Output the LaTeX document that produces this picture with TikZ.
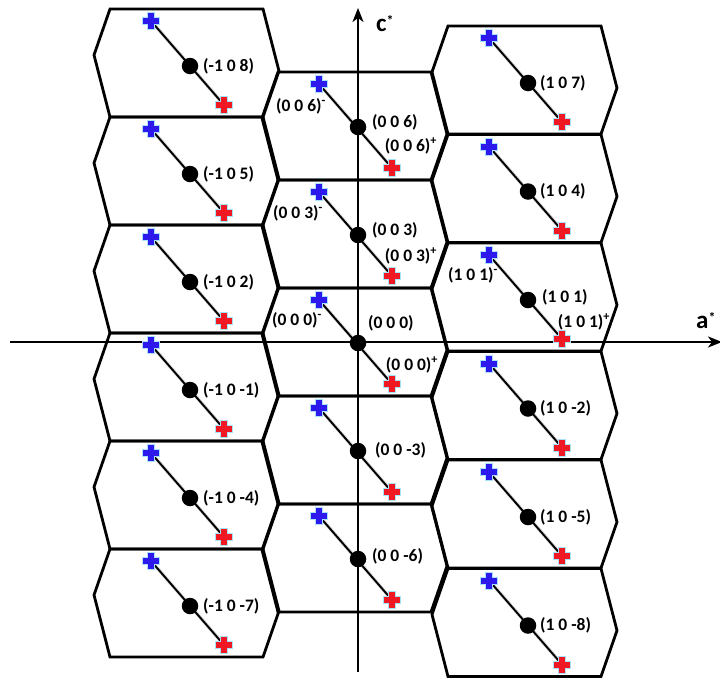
\documentclass[tikz,border=0pt]{standalone}
\usepackage{fontspec}
\setmainfont{Carlito}
\usetikzlibrary{arrows.meta,calc}
\definecolor{crossblue}{RGB}{45,25,235}
\definecolor{crossred}{RGB}{240,25,35}
\tikzset{
  cell/.style={draw=black, line width=2.8pt, line join=miter},
  axisline/.style={line width=2.2pt, -{Stealth[length=14pt,width=11pt,inset=4pt]}},
  bond/.style={line width=1.9pt},
  bondshadow/.style={line width=3.5pt, black!30, opacity=0.5},
  dotnode/.style={circle, fill=black, inner sep=0pt, minimum size=16.5pt},
  lbl/.style={font=\bfseries\fontsize{17.5}{17.5}\selectfont, inner sep=0pt},
  axlbl/.style={font=\bfseries\fontsize{25}{25}\selectfont, inner sep=0pt},
}
\newcommand\hexcell[2]{%
  \draw[cell] (#1,#2) -- ++(153,0) -- ++(16,62) -- ++(-16,46) -- ++(-153,0) -- ++(-16,-62) -- cycle;}
\newcommand\pluscross[2]{%
  \filldraw[fill=#2, draw=cyan!35, line width=0.7pt] (#1) ++(-8.5,-3.4) -- ++(5.1,0) -- ++(0,-5.1) -- ++(6.8,0) -- ++(0,5.1) -- ++(5.1,0) -- ++(0,6.8) -- ++(-5.1,0) -- ++(0,5.1) -- ++(-6.8,0) -- ++(0,-5.1) -- ++(-5.1,0) -- cycle;}
\newcommand\bondcell[4]{% x0, top, dot offset, name
  \coordinate (#4b) at (#1+41,#2+12);
  \coordinate (#4r) at (#1+114,#2+96);
  \draw[bondshadow] ($(#4b)+(1.5,1.5)$) -- ($(#4r)+(1.5,1.5)$);
  \draw[bond] (#4b) -- (#4r);
  \pluscross{#4b}{crossblue}
  \pluscross{#4r}{crossred}
  \node[dotnode] (#4d) at (#1+80,#2+#3) {};}
\begin{document}
\begin{tikzpicture}[x=1pt,y=-1pt]
\useasboundingbox (0,0) rectangle (720,678);
% cells
\foreach \k in {0,...,5} {\hexcell{110}{9+108*\k}}
\foreach \k in {0,...,4} {\hexcell{278}{72+108*\k}}
\foreach \k in {0,...,5} {\hexcell{448}{26+108.5*\k}}
% axes
\coordinate (cbot) at (358,672);
\coordinate (ctop) at (358,8);
\coordinate (aleft) at (10,342);
\coordinate (aright) at (722,342);
\draw[axisline] (cbot) -- (ctop);
\draw[axisline] (aleft) -- (aright);
\node[axlbl, anchor=west] (clab) at (376,24) {c\raisebox{0.5ex}{\fontsize{14}{14}\selectfont *}};
\node[axlbl, anchor=west] (alab) at (696,321) {a\raisebox{0.5ex}{\fontsize{14}{14}\selectfont *}};
% left column
\foreach \k/\l in {0/8,1/5,2/2,3/-1,4/-4,5/-7} {
  \bondcell{110}{9+108*\k}{57}{L\k}
  \node[lbl, anchor=west] at ($(L\k d)+(13,0)$) {(-1 0 \l)};
}
% right column
\foreach \k/\l in {0/7,1/4,2/1,3/-2,4/-5,5/-8} {
  \bondcell{448}{26+108.5*\k}{57}{R\k}
}
\foreach \k/\l in {0/7,1/4,3/-2,4/-5,5/-8} {
  \node[lbl, anchor=west] at ($(R\k d)+(12,0)$) {(1 0 \l)};
}
\node[lbl, anchor=west] at ($(R2d)+(14,-3)$) {(1 0 1)};
\node[lbl] at (473,275) {(1 0 1)\textsuperscript{-}};
\node[lbl] at (584,322) {(1 0 1)\textsuperscript{+}};
% middle column
\foreach \k in {0,...,4} {
  \bondcell{278}{72+108*\k}{55}{M\k}
}
\node[lbl, anchor=west] at ($(M0d)+(14,-5)$) {(0 0 6)};
\node[lbl] at (301,106) {(0 0 6)\textsuperscript{-}};
\node[lbl] at (411,146) {(0 0 6)\textsuperscript{+}};
\node[lbl, anchor=west] at ($(M1d)+(14,-5)$) {(0 0 3)};
\node[lbl] at (298,213) {(0 0 3)\textsuperscript{-}};
\node[lbl] at (411,256) {(0 0 3)\textsuperscript{+}};
\node[lbl, anchor=west] at ($(M2d)+(10,-20)$) {(0 0 0)};
\node[lbl] at (297,320) {(0 0 0)\textsuperscript{-}};
\node[lbl] at (412,365) {(0 0 0)\textsuperscript{+}};
\node[lbl, anchor=west] at ($(M3d)+(17,-1)$) {(0 0 -3)};
\node[lbl, anchor=west] at ($(M4d)+(14,-3)$) {(0 0 -6)};
\end{tikzpicture}
\end{document}
